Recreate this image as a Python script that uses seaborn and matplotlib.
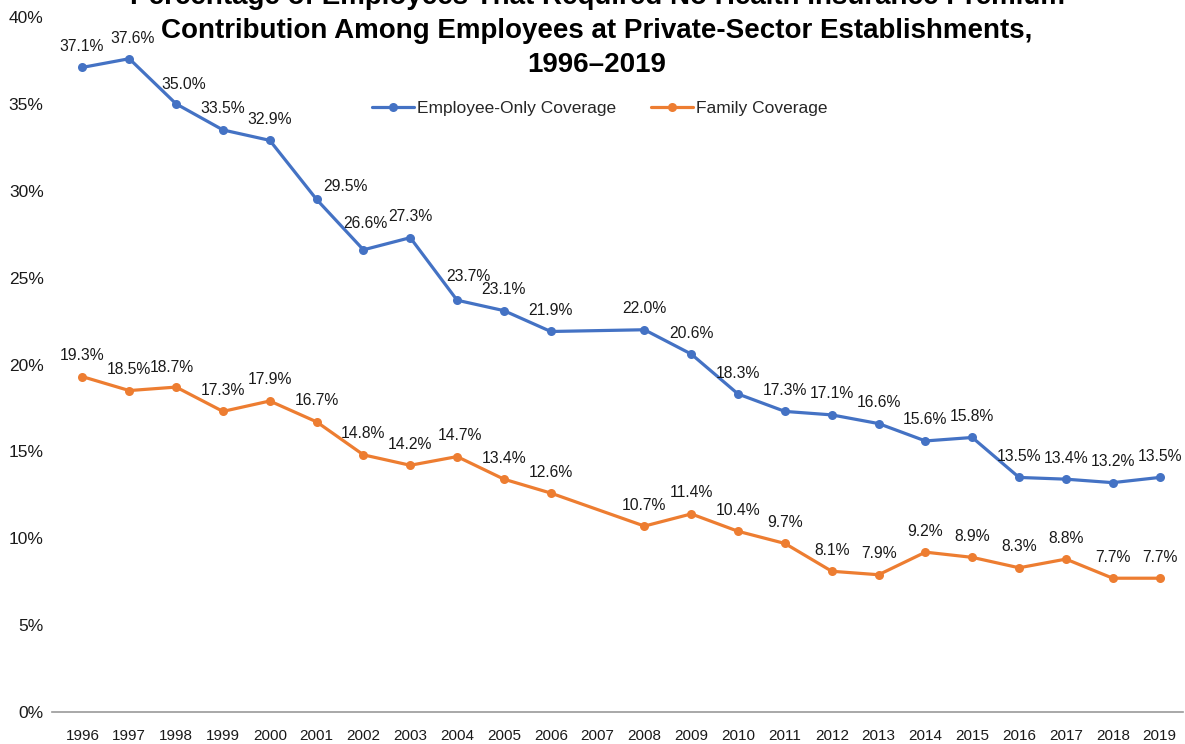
import numpy as np
import pandas as pd
import matplotlib
matplotlib.use("Agg")
import matplotlib.pyplot as plt
import seaborn as sns

# Survey years (2007 was not collected)
years = list(range(1996, 2020))
employee_only = [37.1, 37.6, 35.0, 33.5, 32.9, 29.5, 26.6, 27.3, 23.7, 23.1, 21.9, np.nan,
                 22.0, 20.6, 18.3, 17.3, 17.1, 16.6, 15.6, 15.8, 13.5, 13.4, 13.2, 13.5]
family = [19.3, 18.5, 18.7, 17.3, 17.9, 16.7, 14.8, 14.2, 14.7, 13.4, 12.6, np.nan,
          10.7, 11.4, 10.4, 9.7, 8.1, 7.9, 9.2, 8.9, 8.3, 8.8, 7.7, 7.7]
series_names = ["Employee-Only Coverage", "Family Coverage"]
y_ticks = [0, 5, 10, 15, 20, 25, 30, 35, 40]

title = ("Percentage of Employees That Required No Health Insurance Premium\n"
         "Contribution Among Employees at Private-Sector Establishments,\n"
         "1996\u20132019")

colors = ["#4472C4", "#ED7D31"]

sns.set_theme(style="white")
plt.rcParams["font.family"] = ["Liberation Sans", "DejaVu Sans"]

df = pd.DataFrame({"year": years, series_names[0]: employee_only, series_names[1]: family})
long_df = df.melt(id_vars="year", var_name="series", value_name="pct").dropna()

fig = plt.figure(figsize=(11.85, 7.44), dpi=100)
ax = fig.add_axes([52 / 1185, 1 - 712 / 744, (1183 - 52) / 1185, (712 - 17) / 744])

for name, col in zip(series_names, colors):
    sub = long_df[long_df["series"] == name]
    sns.lineplot(data=sub, x="year", y="pct", ax=ax, color=col, linewidth=2.3,
                 marker="o", markersize=6.5, markeredgewidth=0, label=name)

# label nudges in pixels (dx, dy) where labels would sit on the line
nudge = {
    series_names[0]: {1996: (-1, 0), 1997: (3, -1), 1998: (8, -2), 2001: (29, -8),
                      2002: (2, 5), 2004: (11, 3)},
    series_names[1]: {1998: (-4, -1), 2004: (3, 0)},
}
for name, vals in zip(series_names, [employee_only, family]):
    for yr, v in zip(years, vals):
        if np.isnan(v):
            continue
        dx, dy = nudge[name].get(yr, (0, 0))
        ax.annotate(f"{v:.1f}%", (yr, v), xytext=(dx * 0.72, (21 + dy) * 0.72),
                    textcoords="offset points", ha="center", va="center",
                    fontsize=11.3, color="#1a1a1a")

ax.set_xlim(1995.35, 2019.5)
ax.set_ylim(0, 40)
ax.set_xticks(years)
ax.set_xticklabels([str(y) for y in years])
ax.set_yticks(y_ticks)
ax.set_yticklabels([f"{t}%" for t in y_ticks])
ax.tick_params(axis="x", length=0, pad=12, labelsize=11, colors="#1a1a1a")
ax.tick_params(axis="y", length=0, pad=6, labelsize=12.5, colors="#1a1a1a")
ax.set_xlabel("")
ax.set_ylabel("")
for s in ["top", "right", "left"]:
    ax.spines[s].set_visible(False)
ax.spines["bottom"].set_color("#999999")
ax.spines["bottom"].set_linewidth(1.2)
ax.grid(False)
ax.patch.set_alpha(0)

ax.legend(loc="center", bbox_to_anchor=(600 / 1185, 1 - 108 / 744),
          bbox_transform=fig.transFigure, ncol=2, frameon=False, fontsize=12.5,
          handlelength=2.4, columnspacing=2.0, handletextpad=0.2)

fig.text(597 / 1185, 1 - 31 / 744, title, ha="center", va="center",
         fontsize=20, fontweight="bold", linespacing=1.42, color="#000000")

fig.savefig("out.png", dpi=100)
